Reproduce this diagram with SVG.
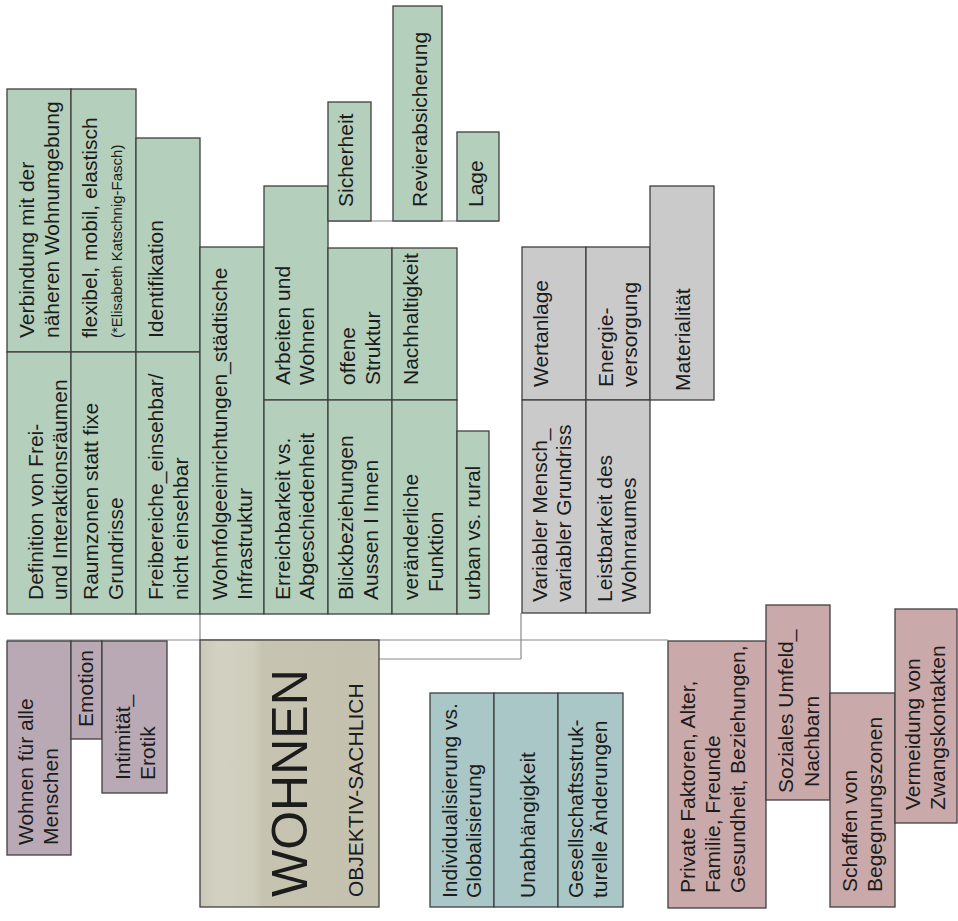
<svg xmlns="http://www.w3.org/2000/svg" width="958" height="921" viewBox="0 0 958 921">
<style>
.n rect{stroke:#3f3f3f;stroke-width:1.3}
.g{fill:#b4cfbb}
.gr{fill:#cacaca}
.p{fill:#b9a9b4}
.t{fill:#a9c7c6}
.k{fill:#c9a9a9}
text{font-family:"Liberation Sans",Arial,sans-serif;font-size:21px;fill:#1c1c1c}
.sm{font-size:15px}
.con line{stroke:#8a8a8a;stroke-width:1.2}
</style>
<defs>
<linearGradient id="wg" x1="0" y1="0" x2="1" y2="0">
<stop offset="0" stop-color="#c9c7b6"/>
<stop offset="0.1" stop-color="#d3d1c1"/>
<stop offset="0.3" stop-color="#cfcdbc"/>
<stop offset="0.35" stop-color="#c6c4b1"/>
<stop offset="1" stop-color="#c4c2ae"/>
</linearGradient>
</defs>
<rect width="958" height="921" fill="#fff"/>
<g class="con" id="connectors">
<line x1="7" y1="640" x2="668" y2="640"/>
<line x1="200" y1="614" x2="200" y2="640"/>
<line x1="521" y1="613" x2="521" y2="659"/>
<line x1="379" y1="659" x2="521" y2="659"/>
<line x1="328" y1="221" x2="499" y2="221"/>
</g>
<g class="n">
<g id="verbindung"><rect class="g" x="7" y="89" width="64" height="263"/><text transform="translate(34,338) rotate(-90)"><tspan x="0" y="0">Verbindung mit der</tspan><tspan x="0" y="25">näheren Wohnumgebung</tspan></text></g>
<g id="definition"><rect class="g" x="7" y="352" width="64" height="262"/><text transform="translate(43,600) rotate(-90)"><tspan x="0" y="0">Definition von Frei-</tspan><tspan x="0" y="24">und Interaktionsräumen</tspan></text></g>
<g id="flexibel"><rect class="g" x="71" y="89" width="65" height="263"/><text transform="translate(97,338) rotate(-90)"><tspan x="0" y="0">flexibel, mobil, elastisch</tspan><tspan class="sm" x="0" y="25">(*Elisabeth Katschnig-Fasch)</tspan></text></g>
<g id="raumzonen"><rect class="g" x="71" y="352" width="65" height="262"/><text transform="translate(98,600) rotate(-90)"><tspan x="0" y="0">Raumzonen statt fixe</tspan><tspan x="0" y="25">Grundrisse</tspan></text></g>
<g id="identifikation"><rect class="g" x="136" y="138" width="64" height="214"/><text transform="translate(163,338) rotate(-90)">Identifikation</text></g>
<g id="freibereiche"><rect class="g" x="136" y="352" width="64" height="262"/><text transform="translate(163,600) rotate(-90)"><tspan x="0" y="0">Freibereiche_einsehbar/</tspan><tspan x="0" y="25">nicht einsehbar</tspan></text></g>
<g id="wohnfolge"><rect class="g" x="200" y="247" width="64" height="367"/><text transform="translate(227,600) rotate(-90)"><tspan x="0" y="0">Wohnfolgeeinrichtungen_städtische</tspan><tspan x="0" y="25">Infrastruktur</tspan></text></g>
<g id="arbeiten"><rect class="g" x="264" y="186" width="64" height="214"/><text transform="translate(290,385) rotate(-90)"><tspan x="0" y="0">Arbeiten und</tspan><tspan x="0" y="24">Wohnen</tspan></text></g>
<g id="erreichbarkeit"><rect class="g" x="264" y="400" width="64" height="214"/><text transform="translate(290,600) rotate(-90)"><tspan x="0" y="0">Erreichbarkeit vs.</tspan><tspan x="0" y="24">Abgeschiedenheit</tspan></text></g>
<g id="offene"><rect class="g" x="328" y="248" width="64" height="152"/><text transform="translate(355,385) rotate(-90)"><tspan x="0" y="0">offene</tspan><tspan x="0" y="25">Struktur</tspan></text></g>
<g id="blick"><rect class="g" x="328" y="400" width="64" height="214"/><text transform="translate(353,600) rotate(-90)"><tspan x="0" y="0">Blickbeziehungen</tspan><tspan x="0" y="25">Aussen I Innen</tspan></text></g>
<g id="nachhaltigkeit"><rect class="g" x="392" y="248" width="65" height="152"/><text transform="translate(418,385) rotate(-90)">Nachhaltigkeit</text></g>
<g id="veraenderlich"><rect class="g" x="392" y="400" width="65" height="214"/><text transform="translate(418,600) rotate(-90)"><tspan x="0" y="0">veränderliche</tspan><tspan x="8" y="25">Funktion</tspan></text></g>
<g id="urban"><rect class="g" x="457" y="431" width="32" height="183"/><text transform="translate(480,600) rotate(-90)">urban vs. rural</text></g>
<g id="sicherheit"><rect class="g" x="328" y="102" width="43" height="119"/><text transform="translate(353,207) rotate(-90)">Sicherheit</text></g>
<g id="revier"><rect class="g" x="393" y="6" width="49" height="215"/><text transform="translate(427,207) rotate(-90)">Revierabsicherung</text></g>
<g id="lage"><rect class="g" x="457" y="132" width="42" height="89"/><text transform="translate(483,207) rotate(-90)">Lage</text></g>
<g id="wertanlage"><rect class="gr" x="522" y="247" width="64" height="153"/><text transform="translate(548,387) rotate(-90)">Wertanlage</text></g>
<g id="energie"><rect class="gr" x="586" y="247" width="64" height="153"/><text transform="translate(613,387) rotate(-90)"><tspan x="0" y="0">Energie-</tspan><tspan x="0" y="24">versorgung</tspan></text></g>
<g id="materialitaet"><rect class="gr" x="650" y="186" width="64" height="214"/><text transform="translate(690,391) rotate(-90)">Materialität</text></g>
<g id="variabler"><rect class="gr" x="522" y="400" width="64" height="213"/><text transform="translate(547,602) rotate(-90)"><tspan x="0" y="0">Variabler Mensch_</tspan><tspan x="0" y="24">variabler Grundriss</tspan></text></g>
<g id="leistbarkeit"><rect class="gr" x="586" y="400" width="64" height="213"/><text transform="translate(612,602) rotate(-90)"><tspan x="0" y="0">Leistbarkeit des</tspan><tspan x="0" y="24">Wohnraumes</tspan></text></g>
<g id="wohnenfuer"><rect class="p" x="7" y="641" width="64" height="214"/><text transform="translate(33,845) rotate(-90)"><tspan x="0" y="0">Wohnen für alle</tspan><tspan x="0" y="25">Menschen</tspan></text></g>
<g id="emotion"><rect class="p" x="71" y="641" width="31" height="98"/><text transform="translate(93,727) rotate(-90)">Emotion</text></g>
<g id="intimitaet"><rect class="p" x="102" y="641" width="65" height="152"/><text transform="translate(130,780) rotate(-90)"><tspan x="0" y="0">Intimität_</tspan><tspan x="0" y="25">Erotik</tspan></text></g>
<g id="wohnen"><rect x="200" y="640" width="179" height="267" fill="url(#wg)"/><text transform="translate(307,897) rotate(-90)" style="font-size:50px">WOHNEN</text><text transform="translate(363,897) rotate(-90)">OBJEKTIV-SACHLICH</text></g>
<g id="individualisierung"><rect class="t" x="430" y="693" width="64" height="214"/><text transform="translate(457,898) rotate(-90)"><tspan x="0" y="0">Individualisierung vs.</tspan><tspan x="0" y="24">Globalisierung</tspan></text></g>
<g id="unabhaengigkeit"><rect class="t" x="494" y="693" width="64" height="214"/><text transform="translate(535,898) rotate(-90)">Unabhängigkeit</text></g>
<g id="gesellschaft"><rect class="t" x="558" y="693" width="65" height="214"/><text transform="translate(583,898) rotate(-90)"><tspan x="0" y="0">Gesellschaftsstruk-</tspan><tspan x="0" y="24">turelle Änderungen</tspan></text></g>
<g id="private"><rect class="k" x="668" y="641" width="98" height="267"/><text transform="translate(695,893) rotate(-90)"><tspan x="0" y="0">Private Faktoren, Alter,</tspan><tspan x="0" y="25">Familie, Freunde</tspan><tspan x="0" y="50">Gesundheit, Beziehungen,</tspan></text></g>
<g id="soziales"><rect class="k" x="766" y="605" width="64" height="195"/><text transform="translate(793,793) rotate(-90)"><tspan x="0" y="0">Soziales Umfeld_</tspan><tspan x="6" y="26">Nachbarn</tspan></text></g>
<g id="schaffen"><rect class="k" x="830" y="693" width="65" height="214"/><text transform="translate(857,892) rotate(-90)"><tspan x="0" y="0">Schaffen von</tspan><tspan x="0" y="25">Begegnungszonen</tspan></text></g>
<g id="vermeidung"><rect class="k" x="895" y="609" width="62" height="214"/><text transform="translate(920,810) rotate(-90)"><tspan x="0" y="0">Vermeidung von</tspan><tspan x="0" y="25">Zwangskontakten</tspan></text></g>
</g>
</svg>
